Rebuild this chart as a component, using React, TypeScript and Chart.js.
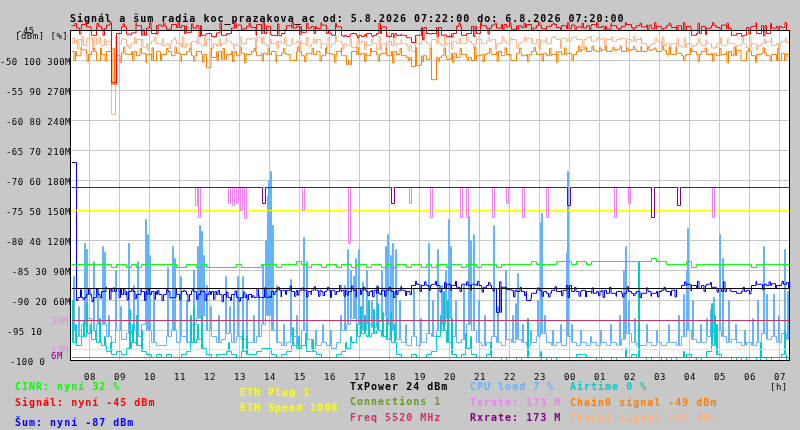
import { useEffect, useRef } from "react";
import { Chart, registerables } from "chart.js";

Chart.register(...registerables);

// time axis in hours of day, left edge 07:24, 10 minute slots
const startHour = 7.4;
const endHour = 7.4 + 719 / 30;
const slotHours = 1 / 6;
const hourTicks = [8, 9, 10, 11, 12, 13, 14, 15, 16, 17, 18, 19, 20, 21, 22, 23, 24, 25, 26, 27, 28, 29, 30, 31];
const dbmTicks = [-50, -55, -60, -65, -70, -75, -80, -85, -90];
const pctTicks = [100, 90, 80, 70, 60, 50, 40, 30, 20];
const rateTicks = [300, 270, 240, 210, 180, 150, 120, 90, 60];

// dBm, one value per 10 minute slot
const signal = [
  -44.2, -44.6, -44.0, -44.4, -45.8, -44.3, -44.7, -44.1, -53.7, -45.5, -44.4, -45.6,
  -45.4, -44.2, -45.8, -44.6, -45.5, -44.1, -44.3, -44.8, -44.0, -44.5, -44.2, -45.3,
  -44.6, -44.2, -45.8, -45.5, -46.0, -45.4, -45.8, -45.5, -44.6, -44.1, -44.7, -44.3,
  -44.5, -44.0, -45.5, -44.3, -45.8, -45.9, -45.5, -44.2, -44.6, -44.3, -45.3, -44.6,
  -44.3, -44.7, -44.1, -45.5, -45.8, -44.4, -45.8, -46.0, -45.5, -45.8, -46.0, -45.5,
  -45.8, -45.5, -44.4, -46.0, -45.5, -45.8, -45.8, -46.2, -47.0, -45.8, -44.5, -45.5,
  -45.5, -44.5, -45.8, -46.0, -45.5, -44.3, -45.8, -45.5, -44.3, -45.5, -44.2, -44.6,
  -44.1, -44.6, -44.0, -44.4, -44.8, -44.2, -44.5, -44.0, -44.6, -44.2, -44.7, -44.3,
  -44.0, -44.5, -44.2, -44.7, -44.1, -44.4, -44.6, -44.2, -44.0, -44.5, -44.3, -44.8,
  -44.2, -44.6, -44.3, -44.0, -44.5, -44.2, -44.4, -44.1, -44.7, -44.3, -44.6, -44.2,
  -44.5, -44.2, -44.8, -44.3, -45.8, -45.5, -44.3, -44.6, -44.2, -44.5, -44.1, -44.7,
  -45.8, -45.5, -45.8, -44.5, -44.3, -45.5, -44.2, -45.5, -44.6, -44.3, -44.5, -45.0,
];
const chain0 = [
  -48.5, -49.2, -48.2, -49.0, -48.5, -50.0, -49.0, -48.5, -54.0, -49.2, -48.8, -49.0,
  -48.5, -49.2, -48.8, -49.0, -50.0, -48.5, -49.0, -48.5, -49.2, -48.8, -49.0, -48.5,
  -49.2, -48.5, -49.0, -51.2, -49.5, -48.5, -49.8, -49.0, -48.5, -49.2, -48.8, -49.0,
  -48.5, -49.2, -48.8, -49.0, -48.5, -49.2, -48.8, -49.0, -50.0, -48.5, -49.2, -48.8,
  -49.0, -48.5, -49.2, -48.8, -49.0, -48.5, -49.2, -50.7, -48.5, -49.0, -48.8, -49.2,
  -48.5, -49.0, -48.8, -49.2, -48.5, -49.0, -49.2, -49.5, -51.0, -50.8, -49.2, -49.8,
  -53.2, -49.5, -49.2, -49.8, -48.8, -49.5, -49.0, -49.5, -50.0, -49.2, -49.0, -48.8,
  -49.0, -48.5, -49.2, -49.0, -50.0, -48.8, -49.2, -49.0, -48.5, -49.0, -48.8, -49.2,
  -49.0, -48.5, -49.0, -48.8, -49.0, -48.5, -48.2, -48.5, -48.3, -48.5, -48.2, -48.5,
  -48.3, -48.2, -48.5, -48.3, -48.2, -48.5, -48.5, -48.3, -48.2, -48.5, -48.3, -49.0,
  -49.0, -48.8, -49.2, -49.0, -48.5, -49.0, -48.5, -49.0, -48.8, -49.2, -49.0, -48.5,
  -49.2, -48.3, -50.0, -48.5, -49.2, -49.0, -48.8, -49.2, -49.0, -50.0, -48.8, -49.0,
];
const chain1 = [
  -47.2, -46.5, -47.5, -46.3, -46.2, -47.2, -47.5, -46.8, -59.0, -47.2, -46.5, -47.5,
  -47.2, -46.5, -47.8, -47.2, -46.8, -47.2, -47.5, -47.2, -46.6, -47.2, -47.8, -47.2,
  -46.8, -47.2, -47.5, -46.5, -47.2, -47.6, -47.2, -46.8, -47.2, -47.5, -47.2, -46.5,
  -46.3, -46.2, -47.2, -47.5, -47.2, -46.8, -47.2, -47.5, -47.2, -46.8, -47.2, -47.6,
  -47.2, -46.5, -47.2, -47.8, -47.2, -46.8, -47.2, -47.5, -47.8, -47.2, -46.8, -47.5,
  -47.2, -48.2, -47.2, -46.8, -47.5, -47.2, -47.2, -47.5, -48.5, -47.2, -46.8, -47.2,
  -46.5, -47.2, -47.5, -47.2, -46.8, -47.2, -47.2, -46.8, -47.2, -46.5, -47.2, -46.8,
  -46.5, -47.2, -46.8, -47.2, -46.5, -47.2, -46.8, -46.3, -47.2, -46.5, -46.8, -47.2,
  -46.2, -46.5, -46.3, -46.8, -46.2, -46.5, -46.5, -46.2, -46.8, -46.5, -46.3, -46.5,
  -46.8, -46.5, -46.3, -46.5, -46.8, -46.5, -47.2, -47.5, -47.2, -46.8, -47.5, -47.2,
  -47.2, -47.5, -47.8, -47.2, -47.5, -47.2, -47.5, -47.2, -47.8, -47.2, -47.5, -47.2,
  -47.2, -47.5, -47.2, -47.8, -47.2, -47.5, -47.2, -46.8, -47.5, -47.2, -46.8, -47.0,
];
const noise = [
  -67.0, -89.5, -89.5, -89.0, -89.5, -89.0, -88.5, -88.0, -88.5, -88.0, -89.0, -88.5,
  -88.5, -89.0, -88.5, -89.0, -88.5, -89.0, -89.0, -88.5, -89.5, -89.0, -88.5, -89.0,
  -88.5, -89.0, -88.5, -89.0, -88.5, -89.0, -89.0, -89.5, -89.0, -89.5, -89.5, -89.0,
  -89.5, -89.5, -89.5, -89.5, -88.5, -88.3, -88.3, -88.3, -88.5, -88.3, -88.3, -88.5,
  -88.3, -88.3, -88.5, -88.3, -88.3, -88.5, -88.3, -88.5, -88.3, -88.0, -88.3, -88.5,
  -88.3, -88.8, -88.3, -88.3, -88.5, -88.3, -88.3, -88.5, -87.5, -87.3, -87.5, -87.5,
  -87.3, -87.5, -88.0, -87.3, -87.5, -87.8, -87.3, -87.5, -87.3, -87.5, -87.8, -87.5,
  -88.0, -92.0, -87.8, -88.2, -88.3, -88.5, -88.5, -90.0, -88.8, -88.3, -88.5, -88.8,
  -88.3, -88.5, -88.3, -87.5, -88.5, -88.5, -88.3, -88.5, -88.8, -88.5, -88.3, -88.8,
  -88.8, -88.5, -88.8, -88.5, -88.8, -88.5, -88.8, -88.5, -88.8, -88.5, -88.3, -88.5,
  -88.3, -88.0, -87.5, -87.3, -87.5, -88.0, -87.5, -87.3, -87.8, -88.0, -88.5, -88.0,
  -88.5, -88.8, -88.5, -88.3, -87.5, -87.3, -87.3, -87.5, -87.2, -87.5, -87.3, -87.0,
];

// short excursions between the slot values: [minutes after 07:24, value]
const signalSpikes = [
  [7, -43.8], [16, -45.6], [28, -43.7], [39, -44.9], [51, -43.8], [63, -45.8], [77, -43.7], [90, -45.5], [103, -43.9], [117, -45.7],
  [129, -43.8], [143, -44.9], [156, -43.7], [170, -45.6], [184, -43.8], [198, -44.8], [213, -43.7], [226, -45.5], [240, -43.9], [255, -46.0],
  [268, -45.7], [283, -46.1], [297, -43.8], [311, -45.6], [326, -43.7], [340, -44.9], [355, -43.8], [369, -45.8], [383, -43.7], [398, -45.6],
  [412, -43.9], [427, -44.8], [441, -43.7], [456, -45.7], [470, -43.8], [485, -45.5], [499, -43.7], [514, -44.9], [528, -43.8], [543, -46.0],
  [557, -45.6], [572, -46.2], [586, -45.7], [601, -46.0], [615, -43.8], [630, -45.9], [644, -46.1], [659, -45.6], [673, -46.2], [688, -45.8],
  [702, -46.5], [717, -45.6], [731, -46.0], [746, -45.7], [760, -46.1], [775, -43.8], [789, -45.9], [804, -46.0], [818, -43.7], [833, -45.6],
  [847, -43.8], [862, -44.9], [876, -43.7], [891, -44.8], [905, -43.8], [920, -44.9], [934, -43.7], [949, -44.8], [963, -43.8], [978, -44.9],
  [992, -43.7], [1007, -44.8], [1021, -43.8], [1036, -44.9], [1050, -43.7], [1065, -44.8], [1079, -43.8], [1094, -44.9], [1108, -43.7], [1123, -44.8],
  [1137, -43.8], [1152, -44.9], [1166, -43.7], [1181, -44.8], [1195, -43.8], [1210, -44.9], [1224, -43.7], [1239, -44.8], [1253, -43.8], [1268, -45.7],
  [1282, -43.7], [1297, -44.9], [1311, -43.8], [1326, -45.8], [1340, -46.0], [1355, -45.6], [1369, -43.7], [1384, -45.9], [1398, -43.8], [1413, -44.9],
  [1427, -43.7],
];
const chain0Spikes = [
  [5, -50.0], [19, -47.8], [31, -50.2], [44, -48.0], [58, -47.9], [67, -50.1], [83, -48.0], [97, -50.3], [104, -47.8], [122, -50.0],
  [137, -48.0], [149, -50.4], [161, -47.9], [178, -50.0], [190, -48.0], [207, -47.8], [219, -50.2], [236, -48.0], [244, -50.1], [262, -50.3],
  [279, -47.9], [291, -50.0], [303, -48.0], [322, -50.2], [337, -47.8], [346, -50.4], [365, -48.0], [381, -50.1], [393, -47.9], [409, -50.3],
  [424, -48.0], [437, -50.0], [452, -47.8], [466, -50.2], [481, -48.0], [497, -50.1], [508, -47.9], [526, -50.3], [539, -48.0], [554, -50.0],
  [571, -47.8], [586, -50.2], [598, -48.0], [613, -50.1], [629, -47.9], [642, -50.4], [657, -48.0], [674, -50.0], [688, -47.8], [701, -50.2],
  [717, -48.0], [733, -50.1], [745, -47.9], [762, -50.3], [777, -48.0], [791, -50.0], [806, -47.8], [823, -50.2], [836, -48.0], [851, -50.1],
  [867, -47.9], [879, -50.0], [896, -48.0], [912, -50.2], [925, -47.8], [941, -50.1], [956, -48.0], [970, -50.3], [986, -47.9], [1001, -50.0],
  [1014, -47.6], [1027, -47.8], [1041, -47.6], [1056, -47.9], [1068, -47.7], [1083, -47.8], [1097, -47.6], [1110, -47.9], [1124, -47.7], [1139, -47.6],
  [1152, -47.8], [1166, -47.9], [1181, -47.6], [1195, -47.8], [1209, -47.7], [1224, -50.0], [1238, -48.0], [1253, -50.2], [1267, -47.9], [1282, -50.1],
  [1296, -48.0], [1311, -50.4], [1325, -47.8], [1339, -50.0], [1354, -48.0], [1368, -50.3], [1383, -47.9], [1397, -50.1], [1412, -48.0], [1426, -50.0],
];
const chain1Spikes = [
  [3, -46.2], [12, -48.0], [21, -46.0], [33, -46.3], [42, -48.2], [55, -46.1], [66, -46.4], [79, -48.1], [88, -46.0], [101, -46.3],
  [115, -48.0], [126, -46.2], [140, -46.5], [152, -48.3], [166, -46.1], [181, -46.4], [195, -48.0], [205, -46.2], [222, -46.0], [238, -48.2],
  [252, -46.3], [266, -46.1], [281, -48.0], [295, -46.4], [309, -46.2], [324, -48.1], [339, -46.0], [353, -46.3], [368, -48.2], [382, -46.1],
  [397, -46.5], [411, -48.0], [426, -46.2], [440, -46.4], [455, -48.3], [470, -46.1], [484, -46.3], [499, -48.0], [513, -46.2], [528, -46.0],
  [542, -48.1], [557, -46.3], [571, -46.1], [586, -48.2], [600, -46.4], [615, -46.0], [629, -48.0], [644, -46.2], [659, -46.5], [673, -48.4],
  [688, -46.1], [702, -46.3], [717, -48.0], [731, -46.2], [746, -46.0], [760, -48.1], [775, -46.3], [790, -46.1], [804, -48.0], [819, -46.4],
  [833, -46.2], [848, -48.2], [862, -46.0], [877, -46.3], [891, -48.0], [906, -46.1], [920, -46.4], [935, -48.1], [949, -46.2], [964, -46.0],
  [978, -48.0], [993, -46.3], [1008, -46.1], [1022, -47.9], [1037, -46.0], [1051, -46.2], [1066, -47.8], [1080, -46.1], [1095, -46.3], [1109, -47.9],
  [1124, -46.0], [1138, -46.2], [1153, -47.9], [1167, -46.3], [1182, -46.1], [1196, -48.2], [1211, -46.4], [1225, -46.2], [1240, -48.3], [1254, -46.3],
  [1269, -46.5], [1283, -48.0], [1298, -46.2], [1312, -46.4], [1327, -48.1], [1341, -46.3], [1356, -46.1], [1370, -48.2], [1385, -46.4], [1399, -46.2],
  [1414, -48.0], [1428, -46.3],
];
const noiseSpikes = [
  [10, -90.0], [18, -88.2], [23, -89.8], [34, -88.0], [41, -90.2], [50, -88.0], [57, -89.6], [69, -87.8], [76, -89.8], [83, -87.9],
  [95, -89.5], [104, -88.0], [111, -89.9], [120, -88.2], [127, -89.7], [139, -88.0], [146, -90.0], [153, -88.1], [165, -89.8], [172, -88.3],
  [181, -90.0], [190, -88.2], [197, -89.6], [209, -88.0], [216, -89.9], [224, -88.3], [233, -90.1], [241, -88.2], [250, -89.8], [258, -88.4],
  [267, -90.0], [275, -88.5], [284, -89.8], [293, -88.3], [301, -90.2], [310, -88.6], [318, -90.0], [327, -88.4], [335, -90.1], [344, -88.6],
  [351, -89.9], [362, -89.2], [371, -88.0], [380, -89.5], [386, -87.9], [395, -89.3], [404, -89.0], [413, -87.8], [419, -89.4], [428, -89.0],
  [437, -87.6], [446, -89.3], [452, -89.1], [461, -87.9], [470, -89.4], [479, -89.0], [485, -87.7], [494, -89.3], [503, -89.2], [512, -87.8],
  [518, -89.5], [527, -89.0], [536, -87.5], [545, -89.3], [551, -89.1], [560, -87.6], [569, -89.4], [578, -89.0], [584, -87.8], [593, -89.2],
  [602, -89.4], [611, -87.7], [617, -89.0], [626, -89.3], [635, -87.8], [644, -89.5], [650, -89.0], [659, -87.6], [668, -89.2], [677, -89.0],
  [688, -86.8], [697, -88.5], [706, -86.9], [715, -88.3], [728, -86.8], [737, -88.6], [746, -87.0], [759, -88.4], [768, -86.8], [777, -88.5],
  [790, -86.9], [799, -88.3], [812, -86.8], [821, -88.6], [834, -87.0], [843, -88.4], [856, -86.9], [884, -89.4], [897, -87.8], [906, -89.2],
  [919, -89.5], [932, -87.9], [941, -89.3], [954, -89.4], [967, -87.7], [980, -89.2], [993, -89.5], [1006, -87.8], [1015, -89.3], [1028, -89.4],
  [1041, -87.9], [1054, -89.2], [1063, -89.5], [1076, -87.8], [1089, -89.3], [1102, -89.4], [1111, -87.7], [1124, -89.2], [1137, -89.5], [1150, -87.9],
  [1159, -89.3], [1172, -89.4], [1185, -87.8], [1198, -89.2], [1207, -89.4], [1226, -86.9], [1239, -88.4], [1252, -86.8], [1265, -88.5], [1278, -87.0],
  [1291, -88.6], [1304, -86.9], [1317, -88.4], [1330, -88.8], [1343, -87.8], [1356, -88.9], [1369, -86.8], [1382, -88.2], [1395, -86.9], [1408, -88.0],
  [1421, -86.8], [1434, -87.9],
];

// percent
const cinr = [
  32, 32, 32, 32, 32, 32, 32, 32, 31, 32, 32, 31,
  32, 31, 32, 32, 32, 32, 32, 32, 32, 31, 31, 32,
  32, 31, 32, 31, 31, 31, 31, 31, 31, 32, 31, 31,
  31, 31, 32, 32, 32, 31, 32, 32, 32, 33, 32, 31,
  32, 32, 31, 32, 32, 31, 32, 32, 31, 32, 32, 31,
  32, 32, 31, 32, 31, 32, 32, 31, 32, 32, 31, 32,
  31, 32, 32, 31, 32, 32, 31, 32, 32, 31, 32, 32,
  32, 31, 32, 32, 32, 32, 32, 32, 33, 32, 32, 32,
  32, 33, 33, 33, 32, 33, 33, 32, 33, 33, 33, 33,
  33, 33, 33, 33, 33, 33, 33, 33, 34, 33, 33, 32,
  32, 32, 32, 33, 31, 32, 32, 32, 32, 32, 32, 32,
  32, 32, 32, 32, 31, 32, 32, 32, 32, 32, 32, 32,
];
const cpuBase = [
  10, 8, 12, 14, 10, 12, 12, 8, 6, 10, 7, 9,
  10, 8, 12, 10, 6, 5, 5, 8, 10, 6, 8, 6,
  12, 14, 15, 10, 8, 6, 7, 9, 6, 8, 7, 6,
  6, 8, 12, 15, 10, 6, 5, 6, 8, 5, 10, 7,
  4, 5, 6, 5, 4, 6, 10, 12, 14, 12, 10, 12,
  11, 13, 15, 12, 10, 7, 6, 5, 8, 5, 6, 9,
  8, 10, 12, 14, 8, 6, 7, 12, 10, 6, 5, 6,
  8, 6, 5, 7, 6, 7, 6, 5, 6, 8, 9, 6,
  5, 6, 5, 8, 6, 5, 6, 5, 6, 5, 6, 5,
  6, 5, 7, 9, 6, 5, 5, 6, 5, 6, 5, 6,
  6, 5, 8, 10, 7, 6, 6, 8, 9, 10, 8, 6,
  7, 6, 5, 6, 5, 6, 9, 7, 8, 6, 9, 7,
];
const cpuSpikeMin = [
  4, 14, 26, 30, 44, 52, 62, 66, 74, 88, 98, 114, 124, 132, 148, 152, 156, 164, 192, 202,
  206, 218, 230, 244, 252, 256, 260, 264, 270, 278, 294, 308, 316, 324, 332, 342, 350, 364, 374, 382,
  388, 392, 394, 398, 402, 410, 424, 438, 450, 464, 470, 488, 502, 518, 538, 546, 552, 558, 564, 568,
  574, 582, 590, 600, 610, 620, 628, 632, 638, 642, 648, 656, 668, 684, 698, 714, 722, 732, 740, 748,
  754, 758, 768, 784, 794, 798, 804, 814, 826, 844, 852, 868, 882, 888, 892, 902, 918, 932, 938, 940,
  946, 962, 978, 990, 992, 1000, 1018, 1038, 1058, 1078, 1096, 1104, 1108, 1114, 1126, 1150, 1170, 1194, 1214, 1224,
  1230, 1232, 1234, 1242, 1258, 1270, 1278, 1284, 1296, 1302, 1314, 1328, 1346, 1362, 1372, 1384, 1390, 1404, 1414, 1426,
  1432,
];
const cpuSpikeVal = [
  28, 18, 39, 37, 33, 24, 38, 36, 15, 30, 18, 39, 25, 33, 47, 42, 35, 20, 31, 38,
  34, 28, 20, 30, 38, 45, 43, 35, 25, 18, 15, 28, 18, 22, 28, 28, 20, 15, 22, 32,
  40, 55, 60, 63, 45, 25, 12, 27, 15, 41, 33, 10, 12, 10, 15, 25, 37, 30, 28, 34,
  37, 26, 30, 20, 25, 30, 38, 42, 35, 39, 37, 20, 12, 24, 14, 39, 20, 37, 25, 30,
  47, 38, 20, 25, 48, 40, 42, 20, 15, 45, 18, 30, 15, 19, 29, 12, 10, 20, 46, 49,
  15, 10, 12, 36, 63, 12, 10, 8, 10, 12, 15, 30, 38, 20, 14, 12, 10, 12, 15, 22,
  30, 44, 42, 20, 12, 14, 17, 21, 42, 34, 20, 12, 10, 14, 20, 38, 22, 22, 15, 37,
  23,
];
const airtimeBase = [
  6, 5, 8, 9, 7, 6, 5, 3, 2, 3, 2, 4,
  6, 5, 3, 2, 1, 2, 1, 2, 1, 1, 2, 3,
  6, 7, 4, 2, 1, 2, 2, 3, 2, 1, 3, 2,
  2, 3, 4, 4, 2, 1, 2, 3, 5, 4, 5, 3,
  3, 2, 1, 1, 1, 2, 3, 4, 6, 8, 9, 8,
  9, 10, 8, 7, 6, 2, 1, 1, 2, 1, 1, 2,
  3, 8, 10, 6, 2, 1, 2, 4, 2, 1, 1, 2,
  1, 1, 0, 1, 1, 0, 1, 1, 1, 1, 0, 1,
  0, 1, 1, 1, 1, 2, 2, 1, 1, 0, 1, 1,
  0, 1, 1, 1, 2, 1, 1, 0, 1, 1, 0, 1,
  0, 1, 1, 2, 1, 0, 1, 3, 5, 2, 1, 1,
  0, 1, 0, 1, 1, 0, 1, 0, 1, 1, 2, 0,
];
const airtimeSpikeMin = [
  2, 8, 24, 30, 38, 48, 56, 66, 78, 116, 122, 130, 140, 238, 244, 252, 260, 314, 342, 350,
  442, 454, 468, 482, 548, 558, 570, 578, 586, 594, 604, 612, 622, 630, 638, 646, 738, 744, 752, 760,
  788, 798, 838, 912, 938, 1024, 1108, 1134, 1224, 1280, 1286, 1290, 1378, 1426,
];
const airtimeSpikeVal = [
  20, 12, 13, 19, 12, 10, 14, 8, 6, 17, 12, 15, 10, 15, 18, 12, 15, 6, 10, 8,
  11, 8, 9, 7, 6, 8, 12, 18, 15, 20, 17, 19, 16, 14, 16, 12, 15, 23, 20, 14,
  9, 8, 6, 14, 3, 2, 4, 33, 3, 19, 15, 12, 6, 10,
];

// rate in M, base level with short drops
const txBase = 173;
const txDipHours = [11.533, 11.633, 12.633, 12.767, 12.9, 13.033, 13.167, 15.1, 16.633, 18.667, 19.367, 20.367, 20.567, 21.433, 21.9, 22.433, 23.233, 25.5, 25.967, 28.767];
const txDipValues = [155, 143, 157, 155, 157, 150, 142, 150, 117, 157, 143, 143, 143, 143, 157, 143, 143, 143, 157, 143];
const rxBase = 173;
const rxDipHours = [13.767, 18.067, 23.933, 26.733, 27.6];
const rxDipValues = [157, 157, 155, 143, 155];

// constant levels
const ethSpeedLevel = 150; // rate scale
const ethPlugLevel = 11; // rate scale
const freqLevel = 40; // rate scale
const txPowerLevel = 24; // percent scale
const connectionsLevel = 1; // percent scale

const now = { cinr: 32, signal: -45, noise: -87, plug: 1, speed: 1000, txPower: 24, connections: 1, freq: 5520, cpu: 7, tx: 173, rx: 173, airtime: 0, chain0: -49, chain1: -47 };

const C = {
  cinr: "#00ff00",
  signal: "#ff0000",
  noise: "#0000ff",
  eth: "#ffff00",
  txPower: "#000000",
  connections: "#669922",
  freq: "#cc3366",
  cpu: "#66b2ff",
  tx: "#ee82ee",
  rx: "#800080",
  airtime: "#00cccc",
  chain0: "#ff8000",
  chain1: "#ffb380",
};

const legend = [
  { text: `CINR: nyní ${now.cinr} %`, color: C.cinr, x: 15, y: 390 },
  { text: `Signál: nyní ${now.signal} dBm`, color: C.signal, x: 15, y: 406 },
  { text: `Šum: nyní ${now.noise} dBm`, color: C.noise, x: 15, y: 426 },
  { text: `ETH Plug ${now.plug}`, color: C.eth, x: 240, y: 396 },
  { text: `ETH Speed ${now.speed}`, color: C.eth, x: 240, y: 411 },
  { text: `TxPower ${now.txPower} dBm`, color: C.txPower, x: 350, y: 390 },
  { text: `Connections ${now.connections}`, color: C.connections, x: 350, y: 405 },
  { text: `Freq ${now.freq} MHz`, color: C.freq, x: 350, y: 421 },
  { text: `CPU load ${now.cpu} %`, color: C.cpu, x: 470, y: 390 },
  { text: `Txrate: ${now.tx} M`, color: C.tx, x: 470, y: 406 },
  { text: `Rxrate: ${now.rx} M`, color: C.rx, x: 470, y: 421 },
  { text: `Airtime ${now.airtime} %`, color: C.airtime, x: 570, y: 390 },
  { text: `Chain0 signal ${now.chain0} dBm`, color: C.chain0, x: 570, y: 406 },
  { text: `Chain1 signal ${now.chain1} dBm`, color: C.chain1, x: 570, y: 421 },
];

const title = "Signál a šum radia koc_prazakova_ac od: 5.8.2026 07:22:00 do: 6.8.2026 07:20:00";

type Pt = { x: number; y: number };

function slots(values: number[]): Pt[] {
  const pts = values.map((v, i) => ({ x: startHour + i * slotHours, y: v }));
  pts.push({ x: endHour, y: values[values.length - 1] });
  return pts;
}

function withSpikes(base: number[], spikes: number[][], widthMin = 2): Pt[] {
  const baseAt = (h: number) => {
    const i = Math.floor((h - startHour) / slotHours + 1e-9);
    return base[Math.max(0, Math.min(base.length - 1, i))];
  };
  const pts = slots(base);
  spikes.forEach(([m, v]) => {
    const h = startHour + m / 60;
    const back = h + widthMin / 60;
    pts.push({ x: h, y: v });
    pts.push({ x: back, y: baseAt(back) });
  });
  return pts.sort((a, b) => a.x - b.x);
}

function zip(a: number[], b: number[]) {
  return a.map((m, i) => [m, b[i]]);
}

function flat(level: number): Pt[] {
  return [{ x: startHour, y: level }, { x: endHour, y: level }];
}

function dips(base: number, hours: number[], values: number[], width: number): Pt[] {
  const pts = [{ x: startHour, y: base }];
  hours.forEach((h, i) => {
    pts.push({ x: h, y: values[i] });
    pts.push({ x: h + width, y: base });
  });
  pts.push({ x: endHour, y: base });
  return pts;
}

const bigFont = "bold 10px 'DejaVu Sans Mono'";
const smallFont = "9px 'DejaVu Sans Mono'";

function setFont(ctx: CanvasRenderingContext2D, font: string, spacing: string) {
  ctx.font = font;
  (ctx as any).letterSpacing = spacing;
}

const rrdDecor = {
  id: "rrdDecor",
  beforeDatasetsDraw(chart: Chart) {
    const { ctx, chartArea: a } = chart;
    const x = chart.scales.x;
    const y = chart.scales.y;
    ctx.save();
    ctx.fillStyle = "#c8c8c8";
    ctx.fillRect(0, 0, chart.width, chart.height);
    ctx.fillStyle = "#ffffff";
    ctx.fillRect(71, 30, 719, 330);

    ctx.strokeStyle = "#c8c8c8";
    ctx.lineWidth = 1;
    ctx.beginPath();
    hourTicks.forEach((h) => {
      const px = Math.floor(x.getPixelForValue(h)) + 0.5;
      ctx.moveTo(px, a.top);
      ctx.lineTo(px, a.bottom);
    });
    [...dbmTicks, -95].forEach((v) => {
      const py = Math.floor(y.getPixelForValue(v)) + 0.5;
      ctx.moveTo(a.left, py);
      ctx.lineTo(790, py);
    });
    ctx.stroke();

    setFont(ctx, bigFont, "1px");
    ctx.fillStyle = "#000";
    ctx.textBaseline = "alphabetic";
    ctx.textAlign = "left";
    ctx.fillText(title, 70, 22);
    ctx.restore();
  },
  afterDatasetsDraw(chart: Chart) {
    const { ctx } = chart;
    const x = chart.scales.x;
    const y = chart.scales.y;
    ctx.save();
    ctx.strokeStyle = "#000";
    ctx.lineWidth = 1;
    ctx.strokeRect(70.5, 30.5, 719, 330);

    setFont(ctx, smallFont, "0.5px");
    ctx.textBaseline = "alphabetic";
    ctx.fillStyle = "#000";
    ctx.textAlign = "right";
    dbmTicks.forEach((v, i) => {
      const py = y.getPixelForValue(v);
      ctx.fillText(`${v} ${pctTicks[i]} ${rateTicks[i]}M`, 71, py + 4);
    });
    ctx.textAlign = "left";
    ctx.fillText("-95 10", 7, y.getPixelForValue(-95) + 4.5);
    ctx.fillText("-100 0", 10, y.getPixelForValue(-100) + 4.5);
    ctx.fillText("-45", 17, 34);
    ctx.fillText("[dBm] [%]", 15, 39);
    ctx.fillStyle = C.tx;
    ctx.fillText("39M", 51, 324);
    ctx.fillText("13M", 51, 353);
    ctx.fillStyle = C.rx;
    ctx.fillText("6M", 51, 359);

    ctx.fillStyle = "#000";
    ctx.textAlign = "center";
    hourTicks.forEach((h) => {
      ctx.fillText(String(h % 24).padStart(2, "0"), Math.floor(x.getPixelForValue(h)) + 1, 380);
    });
    ctx.textAlign = "left";
    ctx.fillText("[h]", 770, 390);

    setFont(ctx, bigFont, "1px");
    legend.forEach((item) => {
      ctx.fillStyle = item.color;
      ctx.fillText(item.text, item.x, item.y);
    });
    ctx.restore();
  },
};

function line(label: string, data: Pt[], color: string, axis: string, extra: object = {}) {
  return {
    label,
    data,
    yAxisID: axis,
    borderColor: color,
    borderWidth: 1,
    pointRadius: 0,
    fill: false,
    stepped: true,
    tension: 0,
    borderCapStyle: "butt" as const,
    borderJoinStyle: "miter" as const,
    ...extra,
  };
}

export default function App() {
  const canvasRef = useRef<HTMLCanvasElement>(null);

  useEffect(() => {
    document.body.style.margin = "0";
    if (!canvasRef.current) return;
    const ctx = canvasRef.current.getContext("2d");
    if (!ctx) return;

    // first dataset is drawn on top
    const chart = new Chart(ctx, {
      type: "line",
      data: {
        datasets: [
          line("Rxrate", dips(rxBase, rxDipHours, rxDipValues, 0.1), C.rx, "yRate"),
          line("Txrate", dips(txBase, txDipHours, txDipValues, 0.067), C.tx, "yRate"),
          line("Freq", flat(freqLevel), C.freq, "yRate"),
          line("Connections", flat(connectionsLevel), C.connections, "yPct"),
          line("TxPower", flat(txPowerLevel), C.txPower, "yPct"),
          line("ETH Plug", flat(ethPlugLevel), C.eth, "yRate"),
          line("ETH Speed", flat(ethSpeedLevel), C.eth, "yRate"),
          line("CINR", slots(cinr), C.cinr, "yPct"),
          line("Šum", withSpikes(noise, noiseSpikes, 3), C.noise, "y"),
          line("Airtime", withSpikes(airtimeBase, zip(airtimeSpikeMin, airtimeSpikeVal)), C.airtime, "yPct"),
          line("CPU load", withSpikes(cpuBase, zip(cpuSpikeMin, cpuSpikeVal)), C.cpu, "yPct"),
          line("Signál", withSpikes(signal, signalSpikes, 3), C.signal, "y", { clip: false }),
          line("Chain0", withSpikes(chain0, chain0Spikes, 3), C.chain0, "y"),
          line("Chain1", withSpikes(chain1, chain1Spikes, 3), C.chain1, "y"),
        ],
      },
      options: {
        animation: false,
        responsive: false,
        devicePixelRatio: 1,
        layout: { padding: { left: 71.5, right: 9.5, top: 30.5, bottom: 69.5 } },
        plugins: { legend: { display: false }, tooltip: { enabled: false } },
        events: [],
        scales: {
          x: { type: "linear", min: startHour, max: endHour, display: false },
          y: { min: -100, max: -45, display: false },
          yPct: { min: 0, max: 110, display: false },
          yRate: { min: 0, max: 330, display: false },
        },
      },
      plugins: [rrdDecor],
    });

    return () => {
      chart.destroy();
    };
  }, []);

  return (
    <div style={{ position: "absolute", left: 0, top: 0, width: 800, height: 430, background: "#c8c8c8" }}>
      <canvas ref={canvasRef} width={800} height={430} style={{ display: "block" }} />
    </div>
  );
}
